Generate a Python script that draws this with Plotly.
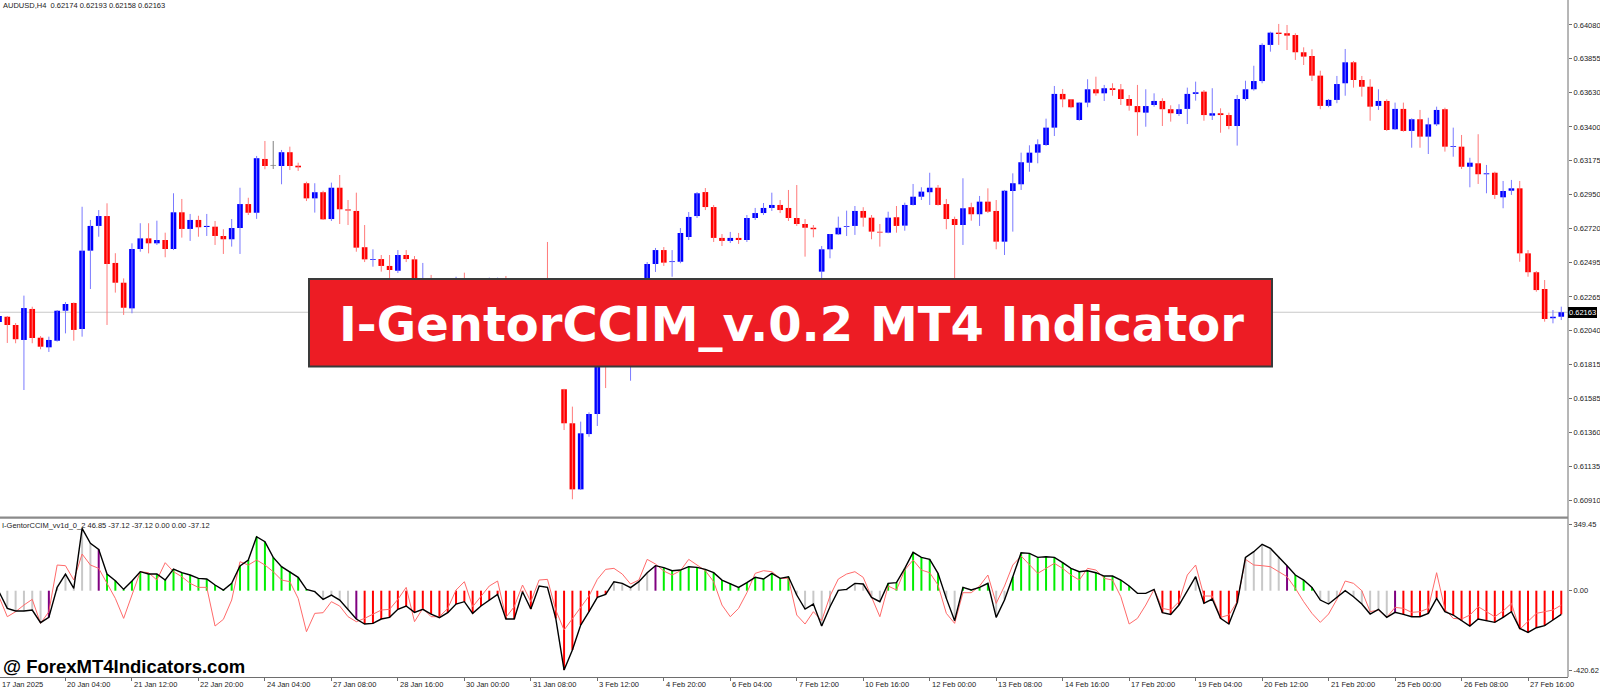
import plotly.graph_objects as go

symbol_header = "AUDUSD,H4  0.62174 0.62193 0.62158 0.62163"
indicator_header = "I-GentorCCIM_vv1d_0_2 46.85 -37.12 -37.12 0.00 0.00 -37.12"
banner_text = "I-GentorCCIM_v.0.2 MT4 Indicator"
watermark_text = "@ ForexMT4Indicators.com"

opens = [
    0.62098, 0.62133, 0.62078, 0.61978, 0.62185, 0.61993, 0.61929, 0.61973, 0.62173, 0.62225,
    0.62051, 0.62574, 0.62739, 0.62805, 0.62492, 0.62360, 0.62189, 0.62585, 0.62656, 0.62623,
    0.62645, 0.62585, 0.62830, 0.62719, 0.62779, 0.62732, 0.62734, 0.62672, 0.62650, 0.62725,
    0.62885, 0.62827, 0.63186, 0.63141, 0.63139, 0.63231, 0.63141, 0.63024, 0.62923, 0.62964,
    0.62785, 0.62994, 0.62849, 0.62839, 0.62597, 0.62513, 0.62518, 0.62472, 0.62440, 0.62545,
    0.62516, 0.62245, 0.62325, 0.62245, 0.62298, 0.62211, 0.62311, 0.62245, 0.62178, 0.62278,
    0.62311, 0.62325, 0.62211, 0.62125, 0.62278, 0.62211, 0.62311, 0.62291, 0.61649, 0.61422,
    0.60981, 0.61350, 0.61484, 0.61911, 0.61844, 0.62045, 0.61978, 0.62145, 0.62311, 0.62485,
    0.62578, 0.62498, 0.62500, 0.62665, 0.62805, 0.62965, 0.62865, 0.62659, 0.62639, 0.62659,
    0.62645, 0.62792, 0.62825, 0.62859, 0.62879, 0.62859, 0.62792, 0.62752, 0.62727, 0.62434,
    0.62583, 0.62683, 0.62732, 0.62739, 0.62839, 0.62794, 0.62699, 0.62694, 0.62797, 0.62741,
    0.62879, 0.62934, 0.62964, 0.62994, 0.62885, 0.62785, 0.62745, 0.62864, 0.62817, 0.62901,
    0.62839, 0.62634, 0.62972, 0.63017, 0.63161, 0.63228, 0.63279, 0.63395, 0.63620, 0.63584,
    0.63446, 0.63562, 0.63651, 0.63624, 0.63658, 0.63651, 0.63586, 0.63539, 0.63495, 0.63546,
    0.63573, 0.63518, 0.63486, 0.63520, 0.63620, 0.63635, 0.63475, 0.63491, 0.63479, 0.63406,
    0.63586, 0.63651, 0.63706, 0.63947, 0.64029, 0.64025, 0.64013, 0.63898, 0.63873, 0.63742,
    0.63540, 0.63580, 0.63691, 0.63831, 0.63713, 0.63668, 0.63540, 0.63573, 0.63384, 0.63520,
    0.63373, 0.63451, 0.63335, 0.63417, 0.63518, 0.63266, 0.63268, 0.63134, 0.63157, 0.63084,
    0.63094, 0.62930, 0.62974, 0.62990, 0.62556, 0.62430, 0.62318, 0.62123, 0.62133,
]
highs = [
    0.62158, 0.62138, 0.62091, 0.62274, 0.62200, 0.62004, 0.62000, 0.62178, 0.62231, 0.62228,
    0.62867, 0.62779, 0.62845, 0.62890, 0.62557, 0.62389, 0.62623, 0.62757, 0.62757, 0.62774,
    0.62694, 0.62957, 0.62919, 0.62819, 0.62807, 0.62819, 0.62772, 0.62717, 0.62785, 0.62994,
    0.62927, 0.63206, 0.63306, 0.63306, 0.63246, 0.63268, 0.63161, 0.63034, 0.63024, 0.62974,
    0.63028, 0.63079, 0.62912, 0.62961, 0.62745, 0.62583, 0.62545, 0.62545, 0.62578, 0.62578,
    0.62538, 0.62492, 0.62412, 0.62365, 0.62358, 0.62400, 0.62427, 0.62345, 0.62358, 0.62394,
    0.62394, 0.62405, 0.62278, 0.62345, 0.62325, 0.62372, 0.62632, 0.62325, 0.61652, 0.61533,
    0.61433, 0.61495, 0.61978, 0.61945, 0.62078, 0.62111, 0.62178, 0.62345, 0.62498, 0.62592,
    0.62598, 0.62578, 0.62725, 0.62832, 0.62965, 0.62992, 0.62879, 0.62685, 0.62699, 0.62692,
    0.62812, 0.62859, 0.62892, 0.62961, 0.62912, 0.62979, 0.63012, 0.62785, 0.62745, 0.62605,
    0.62685, 0.62801, 0.62841, 0.62872, 0.62864, 0.62812, 0.62752, 0.62834, 0.62872, 0.62894,
    0.63019, 0.62997, 0.63094, 0.63012, 0.62919, 0.62801, 0.63057, 0.62894, 0.62939, 0.62990,
    0.62912, 0.62979, 0.63090, 0.63228, 0.63277, 0.63317, 0.63455, 0.63673, 0.63653, 0.63586,
    0.63562, 0.63718, 0.63735, 0.63680, 0.63691, 0.63686, 0.63613, 0.63680, 0.63651, 0.63624,
    0.63591, 0.63544, 0.63551, 0.63662, 0.63702, 0.63646, 0.63658, 0.63524, 0.63495, 0.63613,
    0.63708, 0.63808, 0.63958, 0.64035, 0.64087, 0.64080, 0.64025, 0.63931, 0.63918, 0.63775,
    0.63586, 0.63740, 0.63920, 0.63840, 0.63740, 0.63718, 0.63651, 0.63584, 0.63562, 0.63562,
    0.63457, 0.63513, 0.63461, 0.63535, 0.63528, 0.63395, 0.63346, 0.63194, 0.63351, 0.63146,
    0.63101, 0.63039, 0.63046, 0.63039, 0.62578, 0.62438, 0.62378, 0.62178, 0.62200,
]
lows = [
    0.62078, 0.61958, 0.61956, 0.61644, 0.61956, 0.61916, 0.61898, 0.61967, 0.62022, 0.61973,
    0.62000, 0.62318, 0.62667, 0.62078, 0.62294, 0.62145, 0.62156, 0.62567, 0.62556, 0.62612,
    0.62530, 0.62578, 0.62661, 0.62639, 0.62667, 0.62672, 0.62612, 0.62552, 0.62601, 0.62552,
    0.62812, 0.62786, 0.63117, 0.63119, 0.63017, 0.63112, 0.63106, 0.62905, 0.62828, 0.62779,
    0.62772, 0.62752, 0.62745, 0.62567, 0.62498, 0.62467, 0.62434, 0.62390, 0.62425, 0.62498,
    0.62271, 0.62211, 0.62211, 0.62205, 0.62178, 0.62178, 0.62211, 0.62145, 0.62145, 0.62245,
    0.62278, 0.62178, 0.62098, 0.62111, 0.62165, 0.62178, 0.62245, 0.61978, 0.61377, 0.60915,
    0.60977, 0.61332, 0.61404, 0.61657, 0.61811, 0.61844, 0.61706, 0.62111, 0.62278, 0.62432,
    0.62472, 0.62400, 0.62490, 0.62645, 0.62792, 0.62845, 0.62632, 0.62605, 0.62625, 0.62619,
    0.62632, 0.62779, 0.62812, 0.62839, 0.62825, 0.62772, 0.62739, 0.62534, 0.62663, 0.62390,
    0.62523, 0.62679, 0.62672, 0.62679, 0.62734, 0.62650, 0.62601, 0.62690, 0.62694, 0.62707,
    0.62875, 0.62912, 0.62879, 0.62875, 0.62717, 0.62390, 0.62612, 0.62774, 0.62739, 0.62825,
    0.62583, 0.62545, 0.62701, 0.62979, 0.63101, 0.63157, 0.63273, 0.63339, 0.63531, 0.63524,
    0.63441, 0.63531, 0.63608, 0.63573, 0.63608, 0.63546, 0.63508, 0.63341, 0.63401, 0.63535,
    0.63406, 0.63435, 0.63473, 0.63419, 0.63575, 0.63441, 0.63446, 0.63361, 0.63384, 0.63275,
    0.63575, 0.63642, 0.63691, 0.63902, 0.63947, 0.63913, 0.63847, 0.63813, 0.63706, 0.63518,
    0.63531, 0.63558, 0.63608, 0.63662, 0.63602, 0.63441, 0.63513, 0.63373, 0.63379, 0.63368,
    0.63261, 0.63261, 0.63219, 0.63406, 0.63235, 0.63201, 0.63119, 0.62997, 0.63019, 0.62957,
    0.62919, 0.62857, 0.62946, 0.62500, 0.62400, 0.62300, 0.62100, 0.62089, 0.62111,
]
closes = [
    0.62138, 0.62078, 0.61983, 0.62191, 0.61991, 0.61933, 0.61978, 0.62173, 0.62218, 0.62045,
    0.62574, 0.62739, 0.62805, 0.62485, 0.62360, 0.62193, 0.62585, 0.62656, 0.62623, 0.62645,
    0.62585, 0.62830, 0.62719, 0.62779, 0.62730, 0.62739, 0.62672, 0.62650, 0.62725, 0.62885,
    0.62827, 0.63191, 0.63139, 0.63141, 0.63231, 0.63139, 0.63130, 0.62923, 0.62964, 0.62783,
    0.62994, 0.62850, 0.62842, 0.62594, 0.62516, 0.62518, 0.62472, 0.62445, 0.62545, 0.62518,
    0.62311, 0.62325, 0.62245, 0.62298, 0.62211, 0.62311, 0.62245, 0.62178, 0.62278, 0.62311,
    0.62325, 0.62211, 0.62125, 0.62278, 0.62211, 0.62311, 0.62291, 0.62045, 0.61422, 0.60981,
    0.61355, 0.61484, 0.61911, 0.61844, 0.62045, 0.61978, 0.62145, 0.62311, 0.62485, 0.62578,
    0.62494, 0.62502, 0.62692, 0.62799, 0.62957, 0.62865, 0.62659, 0.62639, 0.62659, 0.62645,
    0.62792, 0.62825, 0.62859, 0.62879, 0.62845, 0.62792, 0.62752, 0.62727, 0.62717, 0.62583,
    0.62685, 0.62727, 0.62735, 0.62839, 0.62794, 0.62701, 0.62695, 0.62794, 0.62739, 0.62879,
    0.62934, 0.62968, 0.62994, 0.62879, 0.62785, 0.62745, 0.62857, 0.62817, 0.62901, 0.62834,
    0.62634, 0.62974, 0.63024, 0.63164, 0.63228, 0.63284, 0.63395, 0.63620, 0.63584, 0.63531,
    0.63562, 0.63651, 0.63624, 0.63658, 0.63646, 0.63586, 0.63541, 0.63498, 0.63539, 0.63573,
    0.63518, 0.63491, 0.63518, 0.63620, 0.63631, 0.63479, 0.63491, 0.63479, 0.63406, 0.63586,
    0.63651, 0.63706, 0.63947, 0.64029, 0.64020, 0.64009, 0.63898, 0.63869, 0.63742, 0.63540,
    0.63580, 0.63686, 0.63831, 0.63713, 0.63668, 0.63535, 0.63573, 0.63379, 0.63520, 0.63373,
    0.63451, 0.63335, 0.63417, 0.63513, 0.63268, 0.63269, 0.63134, 0.63161, 0.63084, 0.63090,
    0.62946, 0.62972, 0.62990, 0.62556, 0.62430, 0.62311, 0.62118, 0.62133, 0.62163,
]

cci_main = [
    -5.3, -92.8, -106.8, -106.8, -101.5, -168.0, -140.0, 17.5, 87.5, 12.3,
    327.3, 248.5, 217.0, 87.5, 52.5, 7.0, 50.8, 99.8, 87.5, 87.5,
    56.0, 113.8, 94.5, 82.3, 64.8, 61.3, 29.8, 3.5, 38.5, 129.5,
    161.0, 283.5, 257.3, 175.0, 126.0, 99.8, 70.0, 7.0, -5.3, -45.5,
    -22.8, -49.0, -98.0, -148.8, -175.0, -171.5, -148.8, -140.0, -98.0, -80.5,
    -113.8, -98.0, -122.5, -141.8, -115.5, -70.0, -57.8, -119.0, -80.5, -49.0,
    -19.3, -148.8, -148.8, -5.3, -96.3, 24.5, 17.5, -145.3, -416.5, -311.5,
    -180.3, -110.3, -35.0, -19.3, 47.3, 38.5, 15.8, 47.3, 94.5, 131.3,
    120.8, 105.0, 108.5, 126.0, 122.5, 112.0, 94.5, 56.0, 38.5, 17.5,
    42.0, 70.0, 61.3, 91.0, 64.8, 73.5, -22.8, -96.3, -70.0, -185.5,
    -84.0, 2.0, 7.0, 38.5, 35.0, -35.0, -57.8, 38.5, 42.0, 117.3,
    201.3, 175.0, 164.5, 91.0, -40.3, -157.5, 17.5, 3.5, 17.5, 38.5,
    -140.0, -49.0, 73.5, 199.5, 196.0, 175.0, 178.5, 175.0, 147.0, 117.3,
    99.8, 105.0, 94.5, 77.0, 77.0, 56.0, 24.5, -14.0, -14.0, 7.0,
    -115.5, -124.3, -75.3, 0.0, 73.5, -66.5, -43.8, -145.3, -175.0, -63.0,
    175.0, 204.8, 243.3, 222.3, 178.5, 131.3, 82.3, 56.0, 17.5, -49.0,
    -70.0, -35.0, 0.0, -31.5, -70.0, -122.5, -98.0, -140.0, -113.8, -124.3,
    -136.5, -136.5, -119.0, -40.3, -110.3, -127.8, -157.5, -185.5, -148.8, -157.5,
    -166.3, -140.0, -110.3, -197.8, -218.8, -194.3, -183.8, -154.0, -124.3,
]
cci_signal = [
    -31.5, -136.5, -110.3, -75.3, -45.5, -171.5, -110.3, 134.8, 131.3, 56.0,
    192.5, 134.8, 117.3, 38.5, -40.3, -145.3, -17.5, 99.8, 94.5, 56.0,
    147.0, 99.8, 73.5, 38.5, 17.5, 17.5, -185.5, -150.5, -49.0, 152.3,
    134.8, 161.0, 134.8, 99.8, 56.0, 47.3, -40.3, -215.3, -119.0, -115.5,
    -57.8, -80.5, -136.5, -162.8, -145.3, -122.5, -101.5, -98.0, -45.5, 17.5,
    -162.8, -92.8, -136.5, -136.5, -92.8, 3.5, 47.3, -84.0, -31.5, 24.5,
    50.8, -140.0, -84.0, 29.8, -57.8, 56.0, 59.5, -101.5, -206.5, -145.3,
    -84.0, -28.0, 59.5, 112.0, 117.3, 87.5, 35.0, 56.0, 164.5, 140.0,
    103.3, 82.3, 105.0, 164.5, 134.8, 105.0, 47.3, -75.3, -136.5, -92.8,
    -10.5, 91.0, 105.0, 99.8, 64.8, 64.8, -127.8, -175.0, -110.3, -157.5,
    -28.0, 61.3, 87.5, 99.8, 70.0, -31.5, -136.5, 24.5, 3.5, 108.5,
    161.0, 108.5, 94.5, 29.8, -119.0, -171.5, -10.5, -10.5, 24.5, 82.3,
    -66.5, 24.5, 134.8, 182.0, 134.8, 91.0, 117.3, 143.5, 117.3, 82.3,
    56.0, 117.3, 108.5, 64.8, 56.0, -31.5, -175.0, -145.3, -75.3, 7.0,
    -92.8, -101.5, -57.8, 82.3, 134.8, -28.0, -28.0, -140.0, -127.8, -57.8,
    164.5, 134.8, 131.3, 126.0, 99.8, 73.5, 12.3, -57.8, -119.0, -166.3,
    -122.5, -45.5, 50.8, 38.5, 0.0, -110.3, -101.5, -140.0, -87.5, -92.8,
    -113.8, -110.3, -92.8, 94.5, -98.0, -145.3, -148.8, -127.8, -84.0, -110.3,
    -136.5, -106.8, -66.5, -203.0, -162.8, -119.0, -110.3, -101.5, -75.3,
]
# histogram state per bar: g=neutral(gray) p=signal(purple) G=bull(green) R=bear(red) n=no bar
hist_state = (
    "ggggggpggg" "ggpGGGGGGG" "GGGGGGGGGG" "GGGGGGGGgg" "gggpRRRRRR"
    "RRRRRRRRRR" "RRRRRnnRRR" "RRRRgggggp" "GGGGGGGGGG" "GGGGGGgggg"
    "gggggggGGG" "GGGGggGGGG" "ggGGGGGGGG" "GGGGGGGnnn" "RRRggRRRRR"
    "gggggpGGGg" "ggggggggpR" "RRRRRRRRRR" "RRRRRRRRR"
)

date_labels = ["17 Jan 2025", "20 Jan 04:00", "21 Jan 12:00", "22 Jan 20:00", "24 Jan 04:00",
               "27 Jan 08:00", "28 Jan 16:00", "30 Jan 00:00", "31 Jan 08:00", "3 Feb 12:00",
               "4 Feb 20:00", "6 Feb 04:00", "7 Feb 12:00", "10 Feb 16:00", "12 Feb 00:00",
               "13 Feb 08:00", "14 Feb 16:00", "17 Feb 20:00", "19 Feb 04:00", "20 Feb 12:00",
               "21 Feb 20:00", "25 Feb 00:00", "26 Feb 08:00", "27 Feb 16:00"]
date_label_bars = [0, 8, 16, 24, 32, 40, 48, 56, 64, 72, 80, 88, 96, 104, 112, 120,
                   128, 136, 144, 152, 160, 168, 176, 184]
price_ticks = [0.64080, 0.63855, 0.63630, 0.63400, 0.63175, 0.62950, 0.62720, 0.62495,
               0.62265, 0.62040, 0.61815, 0.61585, 0.61360, 0.61135, 0.60910]
ind_ticks = [349.45, 0.0, -420.62]
ind_tick_text = ["349.45", "0.00", "-420.62"]

# ---------------- styling / layout constants ----------------
W, H = 1600, 692
PLOT_H = 677.0
FONT = "Liberation Sans, Arial, sans-serif"
SMALL = 7.5
TXT = "#222222"
BULL, BEAR, DOJI = "#0000ff", "#ff0000", "#808080"
BULL_WICK, BEAR_WICK, DOJI_WICK = "#7a7aff", "#ff7a7a", "#808080"
HIST_COLORS = {"g": "#c8c8c8", "p": "#800080", "G": "#00ee00", "R": "#ff0000", "n": "rgba(0,0,0,0)"}


def py(px):
    """pixel row (from top of plot area) -> paper y"""
    return 1 - px / PLOT_H


bars = list(range(len(opens)))
x_range = [0.1203, 188.81]

fig = go.Figure()

# wicks
groups = {"bull": ([], [], BULL_WICK), "bear": ([], [], BEAR_WICK), "doji": ([], [], DOJI_WICK)}
for i, o, h, l, c in zip(bars, opens, highs, lows, closes):
    key = "bull" if c > o else ("bear" if c < o else "doji")
    gx, gy, _ = groups[key]
    gx += [i, i, None]
    gy += [l, h, None]
for key, (gx, gy, col) in groups.items():
    fig.add_trace(go.Scatter(x=gx, y=gy, mode="lines", line=dict(color=col, width=1),
                             hoverinfo="skip", showlegend=False, yaxis="y"))

# bodies
body_base, body_len, body_col = [], [], []
for o, c in zip(opens, closes):
    lo, hi = min(o, c), max(o, c)
    body_base.append(lo)
    body_len.append(max(hi - lo, 0.00005))
    body_col.append(BULL if c > o else (BEAR if c < o else DOJI))
fig.add_trace(go.Bar(x=bars, y=body_len, base=body_base, width=0.68,
                     marker=dict(color=body_col, line=dict(width=0)),
                     showlegend=False, hoverinfo="skip", yaxis="y"))

# indicator histogram + lines
fig.add_trace(go.Bar(x=bars, y=cci_main, base=0, width=0.24,
                     marker=dict(color=[HIST_COLORS[s] for s in hist_state], line=dict(width=0)),
                     showlegend=False, hoverinfo="skip", yaxis="y2"))
fig.add_trace(go.Scatter(x=bars, y=cci_signal, mode="lines", line=dict(color="#ff6a6a", width=1),
                         showlegend=False, hoverinfo="skip", yaxis="y2"))
fig.add_trace(go.Scatter(x=bars, y=cci_main, mode="lines", line=dict(color="#000000", width=1.4),
                         showlegend=False, hoverinfo="skip", yaxis="y2"))

last_close = closes[-1]

shapes = [
    dict(type="line", xref="paper", x0=0, x1=1, yref="y", y0=last_close, y1=last_close,
         line=dict(color="#c8c8c8", width=1), layer="below"),
    dict(type="line", xref="paper", x0=1, x1=1, yref="paper", y0=0, y1=1,
         line=dict(color="#6e6e6e", width=1)),
    dict(type="line", xref="paper", x0=0, x1=1, yref="paper", y0=py(517.6), y1=py(517.6),
         line=dict(color="#8a8a8a", width=2.2)),
    dict(type="rect", xref="paper", yref="paper",
         x0=309 / 1568, x1=1272 / 1568, y0=py(366.5), y1=py(279),
         fillcolor="#ed1c24", line=dict(color="#3a3a3a", width=2), layer="above"),
]

annotations = [
    dict(text=symbol_header, xref="paper", yref="paper", x=0.0006, y=py(6), xanchor="left",
         yanchor="middle", showarrow=False, font=dict(family=FONT, size=SMALL, color=TXT)),
    dict(text=indicator_header, xref="paper", yref="paper", x=0.0, y=py(525.5), xanchor="left",
         yanchor="middle", showarrow=False, font=dict(family=FONT, size=SMALL, color=TXT)),
    dict(text="<b>" + watermark_text + "</b>", xref="paper", yref="paper", x=0.0005, y=py(666),
         xanchor="left", yanchor="middle", showarrow=False,
         font=dict(family=FONT, size=18.5, color="#000000")),
    dict(text="<b>" + banner_text + "</b>", xref="paper", yref="paper", x=791 / 1568, y=py(324),
         xanchor="center", yanchor="middle", showarrow=False,
         font=dict(family="DejaVu Sans, Verdana, sans-serif", size=48, color="#ffffff")),
    dict(text=f"{last_close:.5f}", xref="paper", x=1.0, xanchor="left", xshift=0, yref="y", y=last_close,
         yanchor="middle", showarrow=False, bgcolor="#000000", borderpad=1, borderwidth=0,
         font=dict(family=FONT, size=SMALL, color="#ffffff")),
]
for b, lab in zip(date_label_bars, date_labels):
    annotations.append(dict(text=lab, xref="x", x=max(b, x_range[0] + 0.01), yref="paper", y=py(684.5),
                            xanchor="left", yanchor="middle", xshift=0, showarrow=False,
                            font=dict(family=FONT, size=SMALL, color=TXT)))

fig.update_layout(
    width=W, height=H,
    margin=dict(l=0, r=32, t=0, b=15),
    paper_bgcolor="#ffffff", plot_bgcolor="#ffffff",
    barmode="overlay", showlegend=False,
    xaxis=dict(domain=[0, 1], range=x_range, anchor="y2", showgrid=False, zeroline=False,
               tickvals=date_label_bars[1:], ticks="outside", ticklen=3, tickcolor="#6e6e6e",
               showticklabels=False, showline=True, linecolor="#6e6e6e", linewidth=1, fixedrange=True),
    yaxis=dict(domain=[py(516), 1], range=[0.608032, 0.642468], side="right", anchor="x",
               tickvals=price_ticks, ticktext=[f"{p:.5f}" for p in price_ticks],
               ticks="outside", ticklen=3, tickcolor="#6e6e6e", showgrid=False, zeroline=False,
               tickfont=dict(family=FONT, size=SMALL, color=TXT)),
    yaxis2=dict(domain=[0, py(519)], range=[-453.1, 376.4], side="right", anchor="x",
                tickvals=ind_ticks, ticktext=ind_tick_text, ticks="outside", ticklen=3,
                tickcolor="#6e6e6e", showgrid=False, zeroline=False,
                tickfont=dict(family=FONT, size=SMALL, color=TXT)),
    shapes=shapes,
    annotations=annotations,
)

fig.write_html("out.html",
               config={"displayModeBar": False, "staticPlot": True},
               post_script="document.body.style.margin='0';document.body.style.padding='0';"
                           "document.documentElement.style.overflow='hidden';")
